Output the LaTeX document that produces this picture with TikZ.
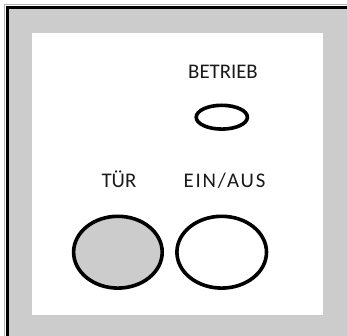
\documentclass[tikz,border=0pt]{standalone}
\usepackage{fontspec}
\usetikzlibrary{shapes.geometric}
\setmainfont{Carlito}
\definecolor{panelgray}{HTML}{CCCCCC}
\definecolor{txt}{HTML}{1A1A1A}
\tikzset{
  lbl/.style={text=txt, font=\fontsize{20.8}{24}\selectfont, inner sep=0pt, anchor=base},
  lamp/.style={draw=black, line width=3.6pt, ellipse, inner sep=0pt},
}
\begin{document}
\begin{tikzpicture}[x=1pt,y=-1pt]
\useasboundingbox (0,0) rectangle (347,336);
% outer panel
\fill[panelgray] (7.5,7.5) rectangle (347,336);
\draw[gray!60, line width=1pt] (4.5,336) -- (4.5,4.5) -- (347,4.5);
\draw[black, line width=3pt] (7.5,336) -- (7.5,7.5) -- (347,7.5);
% inner white face
\fill[white] (32,33) rectangle (323,315);
% labels
\node[lbl] (betrieb) at (223,79) {BETRIEB};
\node[lbl] (tuer) at (119,187.5) {TÜR};
\node[lbl] (einaus) at (224.5,187.5) {\addfontfeature{LetterSpace=9}EIN/AUS};
% lamps / buttons
\node[lamp, minimum width=51.2pt, minimum height=23.8pt] (betriebLamp) at (221.8,117.2) {};
\node[lamp, fill=panelgray, minimum width=88.6pt, minimum height=71.8pt] (tuerBtn) at (117.9,252.2) {};
\node[lamp, fill=white, minimum width=89.6pt, minimum height=71.8pt] (einausBtn) at (221.7,252.2) {};
\end{tikzpicture}
\end{document}
